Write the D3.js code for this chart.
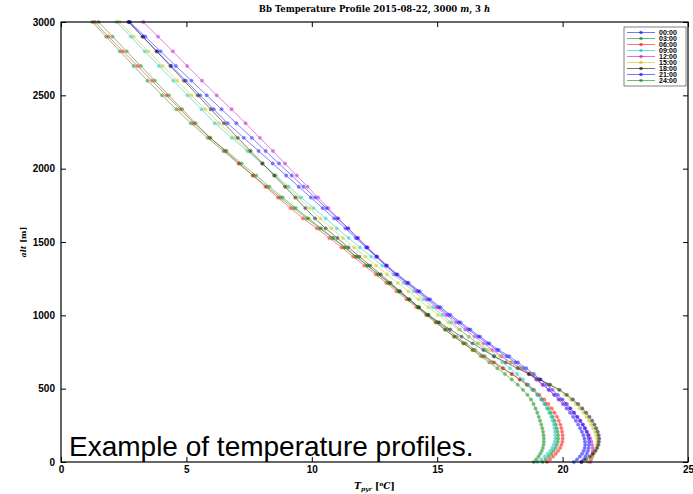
<!DOCTYPE html>
<meta charset="utf-8">
<style>
body { margin: 0; background: #fff; }
.tick text { font: bold 10px "Liberation Sans", Arial, sans-serif; fill: #000; }
.tick line { stroke: #000; }
</style>
<body>
<script src="https://d3js.org/d3.v7.min.js"></script>
<script>
var width = 693, height = 494;

// model levels (m)
var alt = [0,18,37,56,76,96,117,138,160,183,206,230,255,281,308,336,365,395,426,458,
  492,527,563,600,639,679,721,764,809,855,903,952,1003,1055,1109,1164,1221,1279,1339,1400,
  1463,1527,1593,1661,1731,1803,1877,1953,2035,2120,2210,2310,2405,2500,2600,2700,2800,2900,3000];

var hours = ["00:00","03:00","06:00","09:00","12:00","15:00","18:00","21:00","24:00"];
var colors = ["#0000ff","#008000","#ff0000","#00bfbf","#bf00bf","#bfbf00","#000000","#0000ff","#008000"];

var t00 = [20.45,20.58,20.69,20.78,20.84,20.88,20.9,20.89,20.87,20.83,20.77,20.7,20.62,20.53,20.42,20.3,20.16,20.01,19.84,19.66,
  19.45,19.22,18.97,18.7,18.42,18.11,17.76,17.37,17.0,16.63,16.24,15.85,15.44,15.05,14.65,14.24,13.81,13.37,12.95,12.56,
  12.16,11.75,11.34,10.89,10.43,9.96,9.48,8.98,8.44,7.88,7.29,6.64,6.09,5.55,4.98,4.4,3.83,3.25,2.68];
var t03 = [19.2,19.33,19.45,19.55,19.64,19.72,19.77,19.81,19.82,19.82,19.8,19.77,19.73,19.68,19.61,19.53,19.43,19.31,19.16,18.99,
  18.79,18.56,18.29,17.98,17.64,17.28,16.9,16.52,16.14,15.77,15.4,15.03,14.66,14.28,13.89,13.49,13.08,12.66,12.22,11.77,
  11.3,10.82,10.32,9.8,9.27,8.74,8.2,7.66,7.08,6.48,5.85,5.18,4.6,4.03,3.45,2.9,2.35,1.8,1.25];
var t06 = [19.38,19.5,19.62,19.73,19.82,19.9,19.95,19.99,20.0,20.0,19.98,19.95,19.91,19.85,19.78,19.68,19.57,19.43,19.27,19.08,
  18.86,18.6,18.3,17.97,17.6,17.22,16.82,16.43,16.05,15.67,15.3,14.93,14.55,14.17,13.78,13.38,12.97,12.55,12.1,11.65,
  11.18,10.7,10.2,9.65,9.15,8.65,8.15,7.65,7.1,6.55,5.95,5.3,4.75,4.2,3.62,3.05,2.47,1.9,1.35];
var t09 = [19.0,19.15,19.29,19.41,19.51,19.59,19.65,19.69,19.71,19.71,19.7,19.68,19.65,19.6,19.54,19.46,19.37,19.27,19.15,19.01,
  18.84,18.64,18.42,18.18,17.9,17.6,17.28,16.94,16.6,16.26,15.91,15.56,15.2,14.83,14.45,14.06,13.66,13.25,12.81,12.37,
  11.92,11.47,11.0,10.55,10.07,9.58,9.08,8.57,8.01,7.43,6.81,6.13,5.6,5.05,4.48,3.91,3.34,2.78,2.22];
var t12 = [21.1,21.14,21.17,21.19,21.2,21.2,21.18,21.15,21.11,21.05,20.97,20.89,20.8,20.69,20.57,20.44,20.28,20.1,19.9,19.68,
  19.45,19.2,18.94,18.66,18.31,17.94,17.57,17.2,16.85,16.49,16.12,15.74,15.35,14.97,14.58,14.18,13.77,13.33,12.97,12.6,
  12.23,11.85,11.46,11.06,10.66,10.25,9.83,9.4,8.93,8.45,7.93,7.36,6.8,6.21,5.62,5.03,4.46,3.87,3.28];
var t15 = [21.0,21.1,21.19,21.26,21.31,21.35,21.37,21.38,21.37,21.34,21.29,21.22,21.14,21.05,20.95,20.83,20.68,20.52,20.32,20.1,
  19.82,19.48,19.12,18.75,18.35,17.93,17.49,17.05,16.65,16.26,15.86,15.45,15.03,14.65,14.25,13.85,13.43,13.0,12.57,12.14,
  11.69,11.24,10.78,10.34,9.91,9.46,9.0,8.53,8.02,7.49,6.93,6.3,5.75,5.2,4.63,4.05,3.48,2.9,2.33];
var t18 = [20.75,20.93,21.08,21.21,21.31,21.38,21.43,21.45,21.46,21.44,21.4,21.34,21.27,21.18,21.07,20.94,20.79,20.62,20.41,20.17,
  19.88,19.5,19.08,18.65,18.2,17.74,17.26,16.84,16.41,15.97,15.52,15.08,14.63,14.26,13.89,13.52,13.14,12.75,12.33,11.9,
  11.46,11.02,10.55,10.13,9.74,9.34,8.93,8.5,8.04,7.56,7.05,6.5,5.97,5.45,4.9,4.36,3.81,3.27,2.72];
var t21 = [20.75,20.84,20.91,20.97,21.01,21.04,21.05,21.05,21.04,21.01,20.96,20.89,20.81,20.71,20.59,20.46,20.32,20.17,20.0,19.81,
  19.6,19.37,19.12,18.85,18.55,18.22,17.87,17.45,17.08,16.71,16.32,15.93,15.53,15.13,14.72,14.3,13.86,13.42,13.0,12.6,
  12.2,11.82,11.44,11.02,10.58,10.13,9.67,9.2,8.69,8.16,7.61,6.99,6.4,5.81,5.2,4.58,3.97,3.36,2.75];
var t24 = [18.85,18.95,19.04,19.11,19.17,19.21,19.24,19.25,19.25,19.24,19.22,19.19,19.15,19.1,19.05,18.99,18.92,18.84,18.74,18.6,
  18.42,18.21,17.97,17.7,17.4,17.08,16.74,16.4,16.04,15.68,15.32,14.96,14.6,14.23,13.85,13.46,13.06,12.65,12.22,11.78,
  11.33,10.86,10.37,9.87,9.36,8.84,8.31,7.78,7.2,6.6,5.95,5.36,4.83,4.3,3.74,3.18,2.62,2.06,1.5];

var profiles = [t00, t03, t06, t09, t12, t15, t18, t21, t24];

var xTicks = [0, 5, 10, 15, 20, 25];
var yTicks = [0, 500, 1000, 1500, 2000, 2500, 3000];

var mLeft = 61, mRight = 688, mTop = 22, mBottom = 462;

var x = d3.scaleLinear().domain([0, 25]).range([mLeft, mRight]);
var y = d3.scaleLinear().domain([0, 3000]).range([mBottom, mTop]);

var svg = d3.select("body").append("svg")
    .attr("width", width)
    .attr("height", height)
    .style("display", "block");

svg.append("rect").attr("width", width).attr("height", height).attr("fill", "#fff");

var line = d3.line()
    .x(function(d) { return x(d[0]); })
    .y(function(d) { return y(d[1]); });

var plot = svg.append("g");

profiles.forEach(function(p, i) {
  var pts = p.map(function(t, k) { return [t, alt[k]]; });
  var g = plot.append("g").attr("opacity", 0.55);
  g.append("path")
    .datum(pts)
    .attr("d", line)
    .attr("fill", "none")
    .attr("stroke", colors[i])
    .attr("stroke-width", 0.9);
  g.selectAll("circle")
    .data(pts)
    .enter().append("circle")
    .attr("cx", function(d) { return x(d[0]); })
    .attr("cy", function(d) { return y(d[1]); })
    .attr("r", 1.7)
    .attr("fill", colors[i])
    .attr("stroke", colors[i])
    .attr("stroke-width", 0.4);
});

// axes, ticks inside
svg.append("g")
  .attr("transform", "translate(0," + mBottom + ")")
  .call(d3.axisBottom(x).tickValues(xTicks).tickFormat(d3.format("d")).tickSize(-5).tickSizeOuter(0).tickPadding(4))
  .call(function(g) { g.select(".domain").remove(); });
svg.append("g")
  .attr("transform", "translate(" + mLeft + ",0)")
  .call(d3.axisLeft(y).tickValues(yTicks).tickFormat(d3.format("d")).tickSize(-5).tickSizeOuter(0).tickPadding(6))
  .call(function(g) { g.select(".domain").remove(); });
svg.append("g")
  .attr("transform", "translate(0," + mTop + ")")
  .call(d3.axisTop(x).tickValues(xTicks).tickFormat("").tickSize(-5).tickSizeOuter(0))
  .call(function(g) { g.select(".domain").remove(); });
svg.append("g")
  .attr("transform", "translate(" + mRight + ",0)")
  .call(d3.axisRight(y).tickValues(yTicks).tickFormat("").tickSize(-5).tickSizeOuter(0))
  .call(function(g) { g.select(".domain").remove(); });

svg.append("rect")
  .attr("x", mLeft).attr("y", mTop)
  .attr("width", mRight - mLeft).attr("height", mBottom - mTop)
  .attr("fill", "none").attr("stroke", "#000").attr("stroke-width", 1.2);

// title
var title = svg.append("text")
  .attr("x", (mLeft + mRight) / 2).attr("y", 12)
  .attr("text-anchor", "middle")
  .style("font", "bold 8.5px 'DejaVu Serif', serif");
title.append("tspan").text("Bb Temperature Profile 2015-08-22, 3000 ");
title.append("tspan").style("font-style", "italic").text("m");
title.append("tspan").text(", 3 ");
title.append("tspan").style("font-style", "italic").text("h");

// axis labels
var xl = svg.append("text")
  .attr("x", (mLeft + mRight) / 2).attr("y", 489)
  .attr("text-anchor", "middle")
  .style("font", "bold 9px 'DejaVu Serif', serif");
xl.append("tspan").style("font-style", "italic").text("T");
xl.append("tspan").attr("dy", 2).style("font-size", "6px").style("font-style", "italic").text("pyr");
xl.append("tspan").attr("dy", -2).text(" [");
xl.append("tspan").attr("dy", -3).style("font-size", "6px").text("o");
xl.append("tspan").attr("dy", 3).style("font-style", "italic").text("C");
xl.append("tspan").text("]");

var yl = svg.append("text")
  .attr("transform", "translate(26," + ((mTop + mBottom) / 2) + ") rotate(-90)")
  .attr("text-anchor", "middle")
  .style("font", "bold 8px 'DejaVu Serif', serif");
yl.append("tspan").style("font-style", "italic").text("alt");
yl.append("tspan").text(" [m]");

// legend
var leg = svg.append("g");
leg.append("rect")
  .attr("x", 624).attr("y", 27).attr("width", 62).attr("height", 59)
  .attr("fill", "#fff").attr("stroke", "#000").attr("stroke-width", 0.5);
hours.forEach(function(h, i) {
  var ly = 32.5 + i * 6;
  var g = leg.append("g");
  g.append("line")
    .attr("x1", 627).attr("x2", 655).attr("y1", ly).attr("y2", ly)
    .attr("stroke", colors[i]).attr("stroke-opacity", 0.55).attr("stroke-width", 1);
  g.append("circle")
    .attr("cx", 641).attr("cy", ly).attr("r", 1.8)
    .attr("fill", colors[i]).attr("fill-opacity", 0.6);
  g.append("text")
    .attr("x", 659).attr("y", ly + 2.5)
    .style("font", "bold 7px 'Liberation Sans', sans-serif")
    .text(h);
});

// caption
svg.append("text")
  .attr("x", 69).attr("y", 456)
  .style("font", "28px 'Liberation Sans', Arial, sans-serif")
  .text("Example of temperature profiles.");
</script>
</body>
